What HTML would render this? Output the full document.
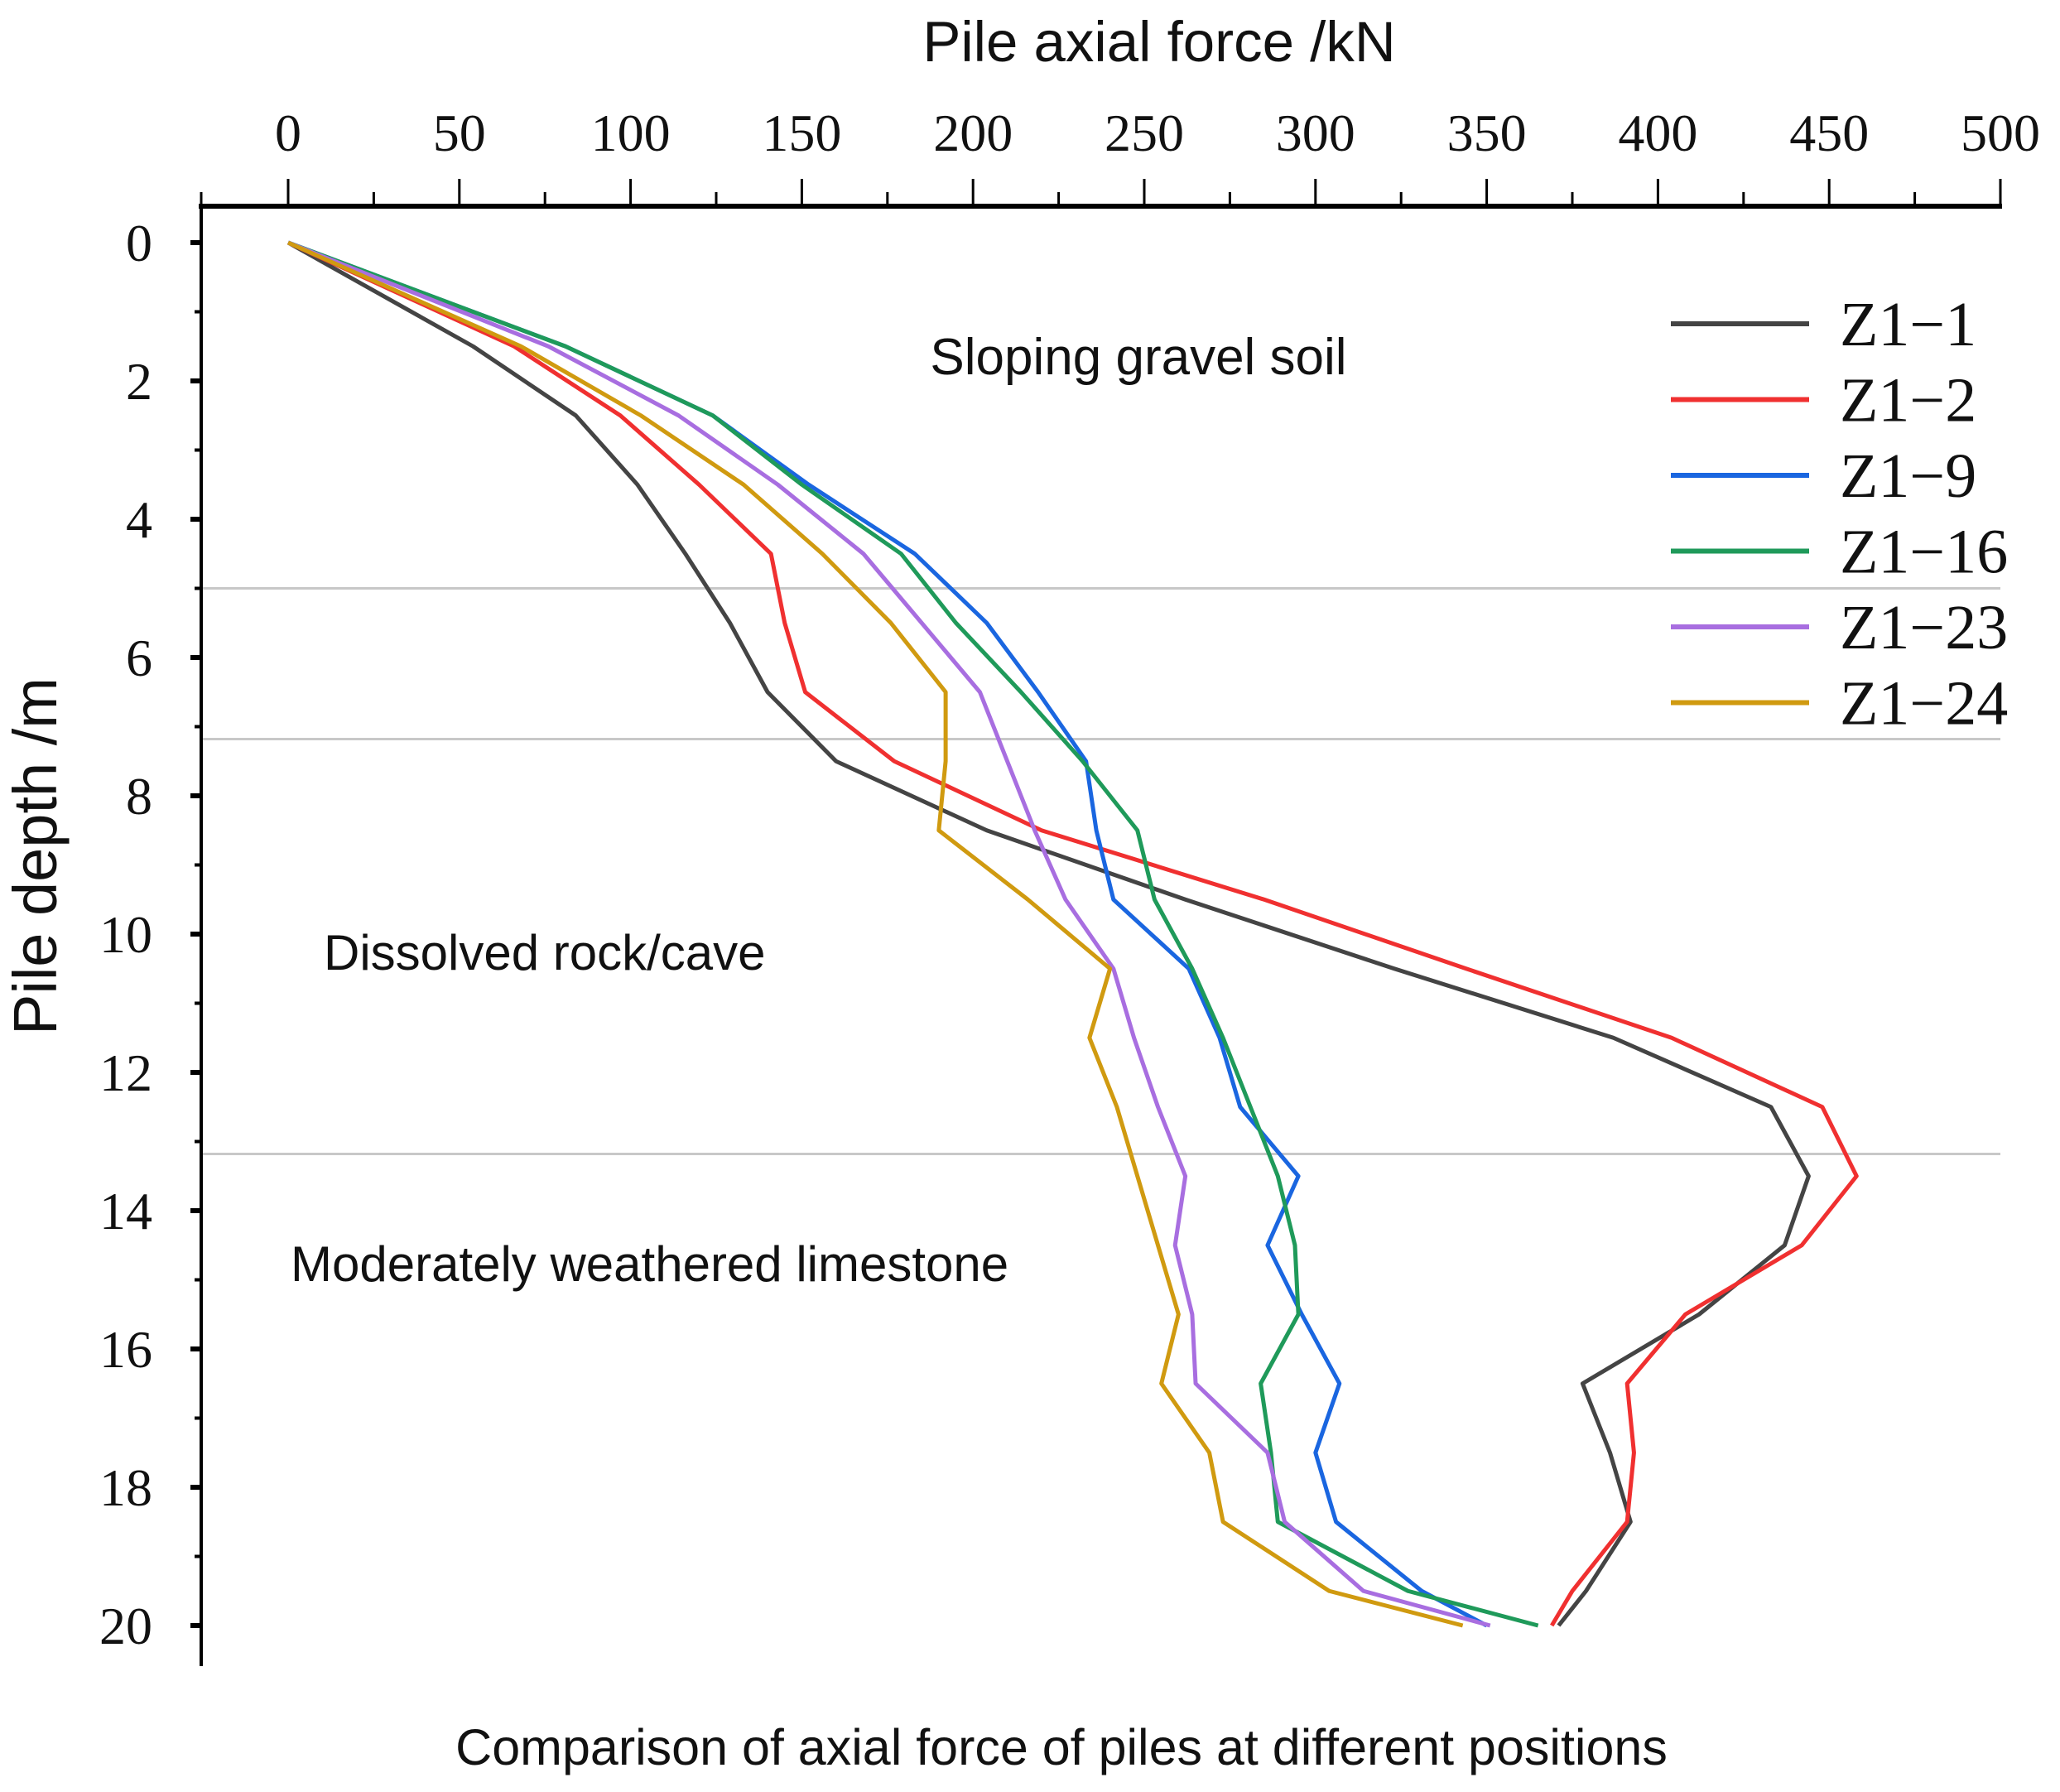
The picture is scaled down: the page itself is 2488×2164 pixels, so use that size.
<!DOCTYPE html>
<html><head><meta charset="utf-8"><style>
html,body{margin:0;padding:0;background:#fff;}
svg{display:block;}
.tk{font-family:"Liberation Serif",serif;font-size:64px;fill:#111;}
.sn{font-family:"Liberation Sans","DejaVu Sans",sans-serif;fill:#111;}
</style></head><body>
<svg id="chart" width="2488" height="2164" viewBox="0 0 2488 2164" xmlns="http://www.w3.org/2000/svg">
<g id="grid"></g><g id="axes"></g><g id="series"></g><g id="legend"></g>
<text class="sn" x="1400" y="74" font-size="69" text-anchor="middle">Pile axial force /kN</text>
<text class="sn" transform="translate(68,1034) rotate(-90)" font-size="74" text-anchor="middle">Pile depth /m</text>
<text class="sn" x="1375" y="452" font-size="62" text-anchor="middle">Sloping gravel soil</text>
<text class="sn" x="391" y="1171" font-size="60">Dissolved rock/cave</text>
<text class="sn" x="351" y="1547" font-size="60">Moderately weathered limestone</text>
<text class="sn" x="1282" y="2131" font-size="61" text-anchor="middle">Comparison of axial force of piles at different positions</text>
</svg>
<script>
const depths=[0,1.5,2.5,3.5,4.5,5.5,6.5,7.5,8.5,9.5,10.5,11.5,12.5,13.5,14.5,15.5,16.5,17.5,18.5,19.5,20];
const z1_1=[0,54,84,102,116,129,140,160,204,262,323,387,433,444,437,412,378,386,392,379,371];
const z1_2=[0,66,97,120,141,145,151,177,220,285,344,404,448,458,442,408,391,393,391,375,369];
const z1_9=[0,81,124,152,183,204,219,233,236,241,263,272,278,295,286,296,307,300,306,331,350];
const z1_16=[0,81,124,150,179,195,214,232,248,253,264,273,281,289,294,295,284,287,289,327,365];
const z1_23=[0,76,114,143,168,185,202,210,218,227,241,247,254,262,259,264,265,286,291,314,351];
const z1_24=[0,68,103,133,156,176,192,192,190,216,240,234,242,248,254,260,255,269,273,304,343];
const seriesNames=["Z1\u22121","Z1\u22122","Z1\u22129","Z1\u221216","Z1\u221223","Z1\u221224"];
const xTicks=[0,50,100,150,200,250,300,350,400,450,500];
const yTicks=[0,2,4,6,8,10,12,14,16,18,20];
const layerDepths=[5,7.18,13.18];
const NS="http://www.w3.org/2000/svg";
const colors=["#444444","#f03030","#1a66e0","#1f9a5a","#a86ee0","#d09a10"];
const allSeries=[z1_1,z1_2,z1_9,z1_16,z1_23,z1_24];
const XR=2416, Y20=1963;
const X=v=>348+v*(XR-348)/500;
const Y=d=>293+d*(Y20-293)/20;
function mk(tag,attrs,parent){const e=document.createElementNS(NS,tag);for(const k in attrs)e.setAttribute(k,attrs[k]);parent.appendChild(e);return e;}
const grid=document.getElementById('grid'),axes=document.getElementById('axes'),ser=document.getElementById('series'),leg=document.getElementById('legend');
layerDepths.forEach((d,i)=>{const l=mk('line',{x1:243,x2:XR,y1:Y(d),y2:Y(d),stroke:'#c8c8c8','stroke-width':3},grid);

});
let a=mk('line',{x1:240,x2:XR+2,y1:249,y2:249,stroke:'#000','stroke-width':6},axes);


a=mk('line',{x1:243,x2:243,y1:246,y2:2012,stroke:'#000','stroke-width':4},axes);


for(let v=0;v<=500;v+=25){const major=v%50===0;mk('line',{x1:X(v),x2:X(v),y1:249,y2:major?216:232,stroke:'#000','stroke-width':3},axes);}
mk('line',{x1:243,x2:243,y1:249,y2:232,stroke:'#000','stroke-width':3},axes);
xTicks.forEach(v=>{const t=mk('text',{x:X(v),y:182,'text-anchor':'middle',class:'tk'},axes);t.textContent=v;

});
for(let d=0;d<=20;d++){const major=d%2===0;mk('line',{x1:major?230:235,x2:243,y1:Y(d),y2:Y(d),stroke:'#000','stroke-width':major?6:4},axes);}
yTicks.forEach(d=>{const t=mk('text',{x:184,y:Y(d)+22,'text-anchor':'end',class:'tk'},axes);t.textContent=d;

});
allSeries.forEach((vals,i)=>{const pts=vals.map((v,j)=>X(v)+','+Y(depths[j])).join(' ');
const p=mk('polyline',{points:pts,fill:'none',stroke:colors[i],'stroke-width':5,'stroke-linejoin':'round'},ser);


const ly=391+i*91.5;
const g=mk('g',{},leg);


mk('line',{x1:2018,x2:2185,y1:ly,y2:ly,stroke:colors[i],'stroke-width':6},g);
const t=mk('text',{x:2222,y:ly+26,class:'tk'},g);t.style.fontSize='76px';t.textContent=seriesNames[i];});
</script>
</body></html>
